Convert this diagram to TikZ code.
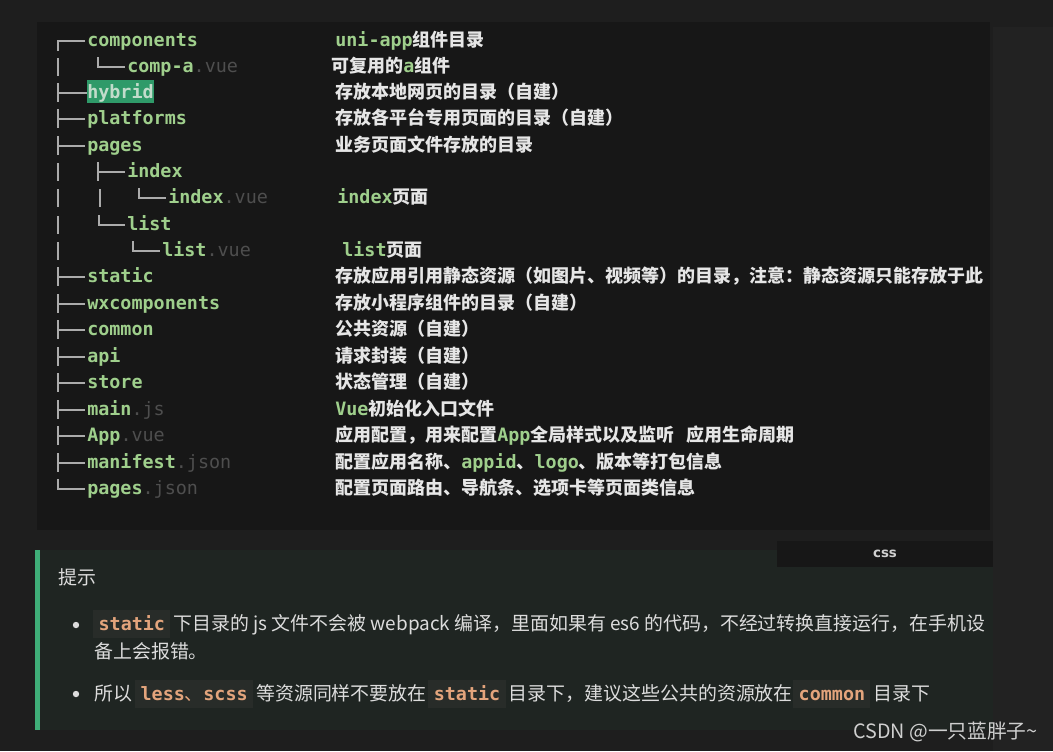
\documentclass[tikz,border=0pt]{standalone}
\usepackage{fontspec}
\setmainfont{Noto Sans CJK SC}
\newfontfamily\monofont{DejaVu Sans Mono}
\newfontfamily\labfont{DejaVu Sans}
\definecolor{pagebg}{HTML}{1E1E1E}
\definecolor{stripbg}{HTML}{222222}
\definecolor{codebg}{HTML}{171717}
\definecolor{codegreen}{HTML}{9FCF8C}
\definecolor{extgray}{HTML}{4E4E4E}
\definecolor{treegray}{HTML}{ABABAB}
\definecolor{descwhite}{HTML}{E6E6E6}
\definecolor{hlgreen}{HTML}{2F9A69}
\definecolor{hltext}{HTML}{C2DCCB}
\definecolor{tipbg}{HTML}{1F2522}
\definecolor{tipbar}{HTML}{3FAE78}
\definecolor{chipbg}{HTML}{282C29}
\definecolor{chiporange}{HTML}{E3A47C}
\definecolor{tiptext}{HTML}{DCDCDC}
\definecolor{tabbg}{HTML}{171717}
\definecolor{tabtext}{HTML}{D0D0D0}
\definecolor{wmtext}{HTML}{CFCFCF}
\newcommand\codefont{\monofont\bfseries\fontsize{13.8}{16}\selectfont}
\newcommand\descfont{\bfseries\fontsize{13.5}{16}\selectfont}
\newcommand\tipfont{\fontsize{14.2}{17}\selectfont}
\newcommand\gm[1]{{\codefont\color{codegreen}#1}}
\newcommand\ext[1]{{\monofont\mdseries\fontsize{13.8}{16}\selectfont\color{extgray}#1}}
\newcommand\trTee[3]{\draw[treeline] (#1,{#2-10}) -- (#1,{#2+9}) (#1,#2) -- (#3,#2);}
\newcommand\trEll[3]{\draw[treeline] (#1,{#2-10}) -- (#1,#2) -- (#3,#2);}
\newcommand\trTop[3]{\draw[treeline] (#1,{#2+10}) -- (#1,#2) -- (#3,#2);}
\newcommand\trBar[2]{\draw[treeline] (#1,{#2-9}) -- (#1,{#2+9});}
\begin{document}
\begin{tikzpicture}[x=0.75pt,y=-0.75pt,
  treeline/.style={draw=treegray, line width=1.2pt},
  nm/.style={anchor=base west, inner sep=0pt, font=\codefont, text=codegreen},
  ds/.style={anchor=base west, inner sep=0pt, font=\descfont, text=descwhite},
  tipt/.style={anchor=base west, inner sep=0pt, font=\tipfont, text=tiptext},
  chip/.style={anchor=base west, fill=chipbg, inner xsep=4pt, inner ysep=3.5pt,
    text height=12pt, text depth=2pt, font=\codefont, text=chiporange}]
% backgrounds
\fill[pagebg] (0,0) rectangle (1053,751);
\useasboundingbox (0,0) rectangle (1053,751);
\fill[stripbg] (993,27) rectangle (1053,751);
\fill[codebg] (37,22) rectangle (990,530);
% tree lines
\trTop{58}{41}{85}
\trBar{58}{67} \trEll{98}{67}{125}
\trTee{58}{93}{87}
\trTee{58}{119}{85}
\trTee{58}{146}{85}
\trBar{58}{172} \trTee{98}{172}{125}
\trBar{58}{198} \trBar{100}{198} \trEll{139}{198}{166}
\trBar{58}{225} \trEll{99}{225}{125}
\trBar{58}{251} \trEll{133}{251}{160}
\trTee{58}{277}{85}
\trTee{58}{304}{85}
\trTee{58}{330}{85}
\trTee{58}{357}{85}
\trTee{58}{383}{85}
\trTee{58}{410}{85}
\trTee{58}{436}{85}
\trTee{58}{463}{85}
\trEll{58}{489}{85}
% hybrid highlight
\fill[hlgreen] (87,80) rectangle (154,103);
% names
\node[nm] (n1) at (87,46) {components};
\node[nm] (n2) at (127,72) {comp-a\ext{.vue}};
\node[nm, text=hltext] (n3) at (87,98) {hybrid};
\node[nm] (n4) at (87,124) {platforms};
\node[nm] (n5) at (87,151) {pages};
\node[nm] (n6) at (127,177) {index};
\node[nm] (n7) at (168,203) {index\ext{.vue}};
\node[nm] (n8) at (127,230) {list};
\node[nm] (n9) at (162,256) {list\ext{.vue}};
\node[nm] (n10) at (87,282) {static};
\node[nm] (n11) at (87,309) {wxcomponents};
\node[nm] (n12) at (87,335) {common};
\node[nm] (n13) at (87,362) {api};
\node[nm] (n14) at (87,388) {store};
\node[nm] (n15) at (87,415) {main\ext{.js}};
\node[nm] (n16) at (87,441) {App\ext{.vue}};
\node[nm] (n17) at (87,468) {manifest\ext{.json}};
\node[nm] (n18) at (87,494) {pages\ext{.json}};
% descriptions
\node[ds] (d1) at (335,46.5) {\gm{uni-app}组件目录};
\node[ds] (d2) at (331,72.5) {可复用的\gm{a}组件};
\node[ds] (d3) at (335,98.5) {存放本地网页的目录（自建）};
\node[ds] (d4) at (335,124.5) {存放各平台专用页面的目录（自建）};
\node[ds] (d5) at (335,151.5) {业务页面文件存放的目录};
\node[ds] (d7) at (337,203.5) {\gm{index}页面};
\node[ds] (d9) at (342,256.5) {\gm{list}页面};
\node[ds] (d10) at (335,282.5) {存放应用引用静态资源（如图片、视频等）的目录，注意：静态资源只能存放于此};
\node[ds] (d11) at (335,309.5) {存放小程序组件的目录（自建）};
\node[ds] (d12) at (335,335.5) {公共资源（自建）};
\node[ds] (d13) at (335,362.5) {请求封装（自建）};
\node[ds] (d14) at (335,388.5) {状态管理（自建）};
\node[ds] (d15) at (335,415.5) {\gm{Vue}初始化入口文件};
\node[ds] (d16) at (335,441.5) {应用配置，用来配置\gm{App}全局样式以及监听\hspace{9pt}应用生命周期};
\node[ds] (d17) at (335,468.5) {配置应用名称、\gm{appid}、\gm{logo}、版本等打包信息};
\node[ds] (d18) at (335,494.5) {配置页面路由、导航条、选项卡等页面类信息};
% tip box
\fill[tipbg] (35,550) rectangle (993,730);
\fill[tipbar] (35,550) rectangle (40,730);
\fill[tabbg] (777,541) rectangle (993,567);
\node[font=\labfont\bfseries\fontsize{10}{12}\selectfont, text=tabtext, inner sep=0pt] (tab) at (885,554) {css};
\node[tipt] (tiptitle) at (58,584.6) {提示};
\fill[tiptext] (76,625) circle[radius=2.4pt];
\fill[tiptext] (76,694) circle[radius=2.4pt];
\node[chip] (c1) at (93,630.6) {static};
\node[tipt, xshift=2pt] (t1) at (c1.base east) {下目录的 js 文件不会被 webpack 编译，里面如果有 es6 的代码，不经过转换直接运行，在手机设};
\node[tipt] (t2) at (94,658.6) {备上会报错。};
\node[tipt] (t3a) at (94,700.6) {所以};
\node[chip, xshift=2pt] (c2) at (t3a.base east) {less{\rmfamily\mdseries 、}scss};
\node[tipt, xshift=2pt] (t3b) at (c2.base east) {等资源同样不要放在};
\node[chip, xshift=1pt] (c3) at (t3b.base east) {static};
\node[tipt, xshift=2pt] (t3c) at (c3.base east) {目录下，建议这些公共的资源放在};
\node[chip, xshift=0pt] (c4) at (t3c.base east) {common};
\node[tipt, xshift=2pt] (t3d) at (c4.base east) {目录下};
% watermark
\node[anchor=west, inner sep=0pt, font=\fontsize{14.8}{17}\selectfont, text=wmtext] (wm) at (853,732) {CSDN @一只蓝胖子\textasciitilde};
\end{tikzpicture}
\end{document}
